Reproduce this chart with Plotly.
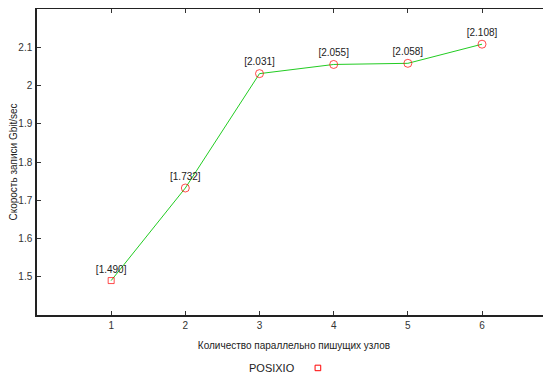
import plotly.graph_objects as go

nodes = [1, 2, 3, 4, 5, 6]
speed = [1.490, 1.732, 2.031, 2.055, 2.058, 2.108]
labels = ["[%.3f]" % v for v in speed]
symbols = ["square-open", "circle-open", "circle-open", "circle-open", "circle-open", "circle-open"]
sizes = [6, 8, 8, 8, 8, 8]
x_ticks = [1, 2, 3, 4, 5, 6]
y_ticks = [1.5, 1.6, 1.7, 1.8, 1.9, 2.0, 2.1]

FONT = "Liberation Sans, Arial, sans-serif"

fig = go.Figure()
fig.add_trace(go.Scatter(
    x=nodes, y=speed, mode="lines+markers+text",
    text=labels, textposition="top center",
    textfont=dict(family=FONT, size=10, color="#222"),
    line=dict(color="#22cc22", width=1),
    marker=dict(symbol=symbols, size=sizes, color="#ff0000",
                line=dict(color="#ff0000", width=1)),
    showlegend=False, cliponaxis=False,
))

# page body has an 8px default margin; compensate
fig.update_layout(
    width=543, height=366,
    margin=dict(l=29, r=0, t=1, b=59, autoexpand=False),
    paper_bgcolor="white", plot_bgcolor="white",
    font=dict(family=FONT, size=10, color="#333"),
    xaxis=dict(range=[0, 6.93], tickvals=x_ticks, ticks="inside", ticklen=4,
               tickcolor="#333", showline=True, linecolor="#222", linewidth=1.5,
               mirror="ticks", showgrid=False, zeroline=False, automargin=False,
               title=dict(text="Количество параллельно пишущих узлов",
                          font=dict(size=10, color="#222"), standoff=12)),
    yaxis=dict(range=[1.4, 2.2], tickvals=y_ticks, ticks="inside", ticklen=4,
               tickcolor="#333", showline=True, linecolor="#222", linewidth=1.5,
               showgrid=False, zeroline=False, ticklabelstandoff=1, automargin=False,
               title=dict(text="Скорость записи Gbit/sec",
                          font=dict(size=10, color="#222"), standoff=4)),
    annotations=[dict(text="POSIXIO", xref="paper", yref="paper", x=0.506, y=-0.172,
                      xanchor="right", yanchor="middle", showarrow=False,
                      font=dict(size=11, color="#222"))],
    shapes=[dict(type="rect", xref="paper", yref="paper", x0=0.541, x1=0.552,
                 y0=-0.182, y1=-0.164, line=dict(color="#ff0000", width=1))],
)

fig.write_html("out.html")
